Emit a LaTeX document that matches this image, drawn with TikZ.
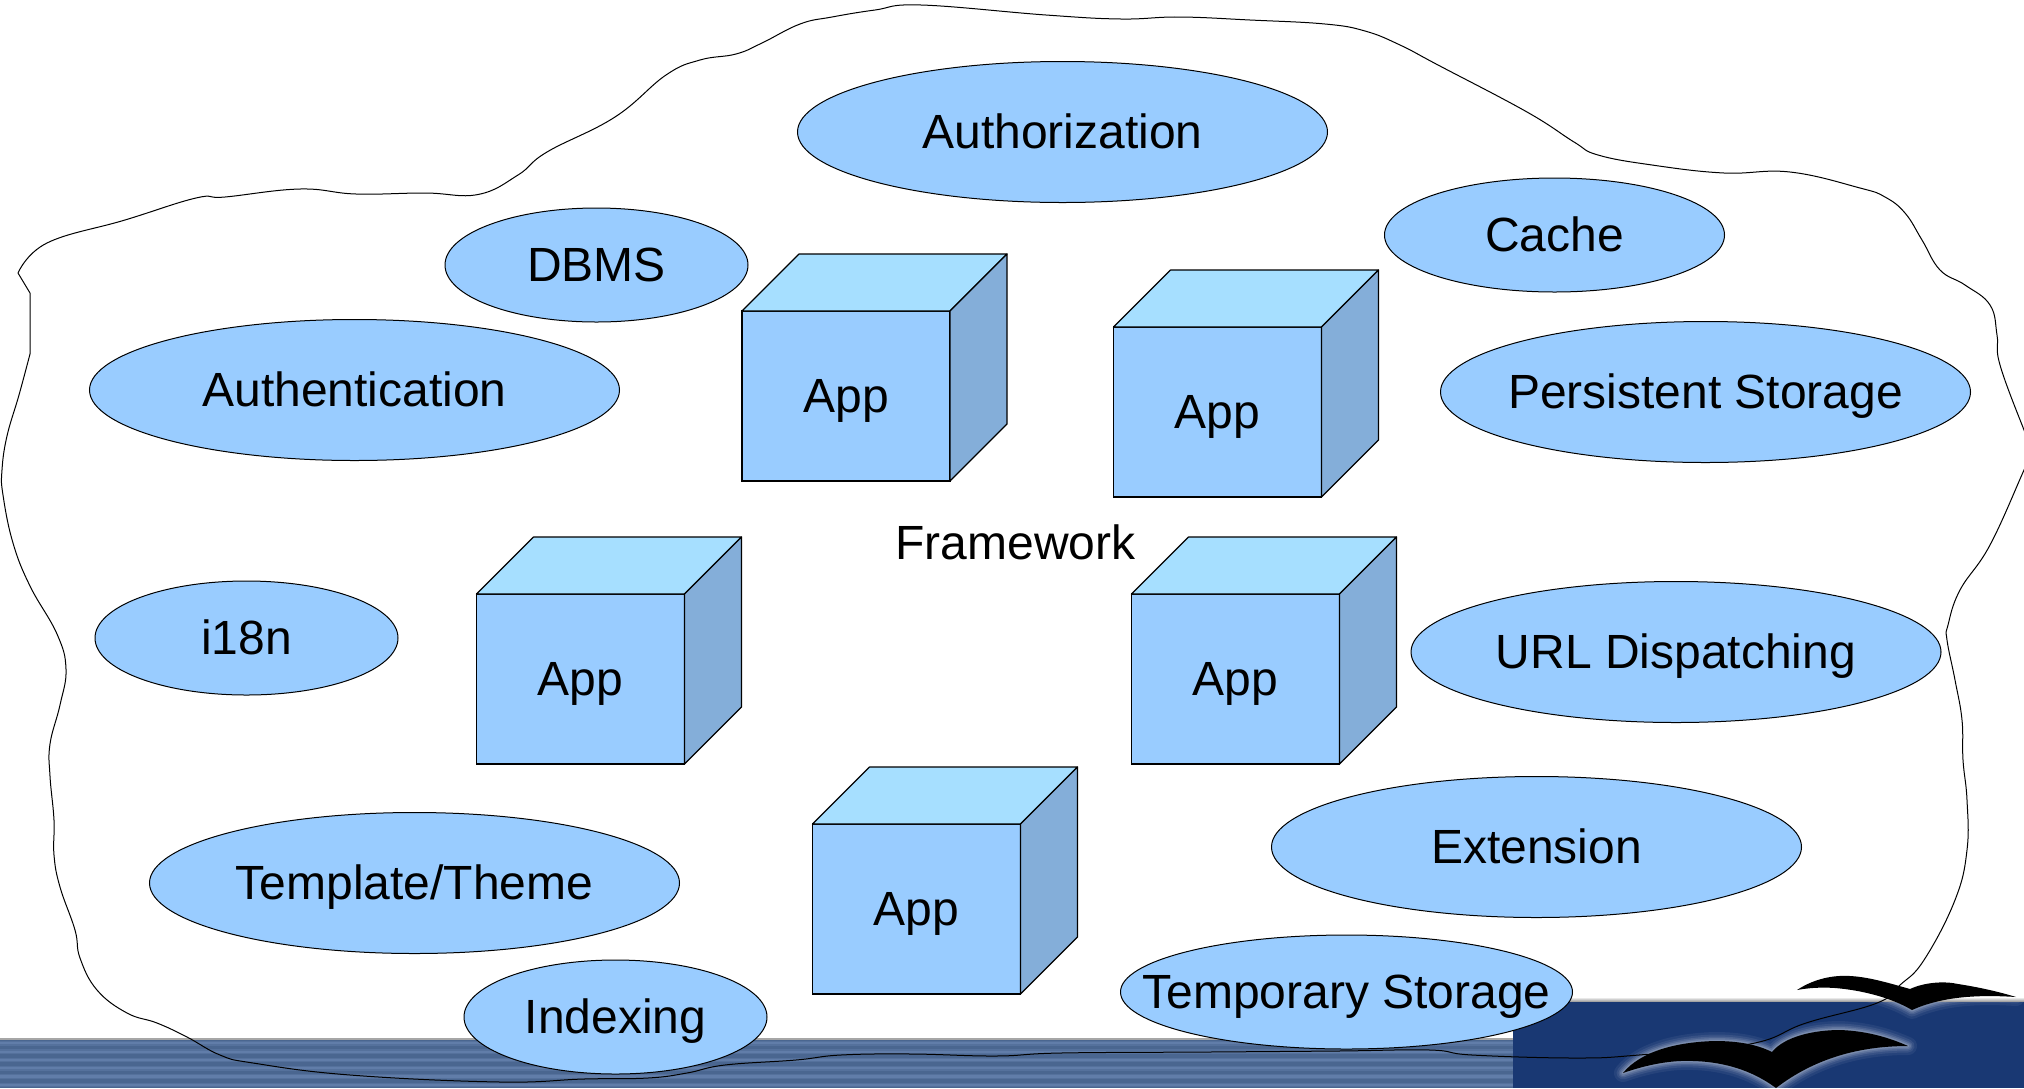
\documentclass[tikz,border=0pt]{standalone}
\usepackage{fontspec}
\setmainfont{Liberation Sans}
\usetikzlibrary{shapes.geometric}
\definecolor{bubble}{HTML}{99CCFF}
\definecolor{cubetop}{HTML}{A6DFFF}
\definecolor{cubeside}{HTML}{84AED9}
\definecolor{navy}{HTML}{193873}
\definecolor{stripedark}{HTML}{4A6690}
\definecolor{stripemid}{HTML}{55719C}
\definecolor{stripelight}{HTML}{617DA9}
\tikzset{
  label text/.style={font=\fontsize{48}{50}\selectfont, text=black, text height=32.5pt, text depth=0pt, inner sep=0pt, outer sep=0pt},
  bubblebig/.style={label text, ellipse, draw=black, line width=1pt, fill=bubble, minimum width=530pt, minimum height=141pt},
  bubblesmall/.style={label text, ellipse, draw=black, line width=1pt, fill=bubble, minimum width=303pt, minimum height=114pt},
  appface/.style={label text, rectangle, draw=black, line width=1.2pt, fill=bubble, minimum width=208pt, minimum height=170pt},
  apptop/.style={draw=black, line width=1.2pt, fill=cubetop, line join=round},
  appside/.style={draw=black, line width=1.2pt, fill=cubeside, line join=round},
  cloudline/.style={draw=black, line width=1pt, line join=round},
  birdshape/.style={fill=black},
  birdglow/.style={draw=white, line join=round},
}
\newcommand{\ctext}[1]{\hbox to 0pt{\hss #1\hss}}
\newcommand{\appcube}[3]{%
  \node[appface] (#1) at (#2,#3) {App};
  \draw[apptop] (#1.north west) -- ++(57,-57) -- ++(208,0) -- (#1.north east) -- cycle;
  \draw[appside] (#1.north east) -- ++(57,-57) -- ++(0,170) -- (#1.south east) -- cycle;
}
\def\birdone{(1797,990) .. controls (1815,978) and (1835,975) .. (1850,976) .. controls (1870,977) and (1892,984) .. (1910,989) .. controls (1925,982) and (1945,981) .. (1958,984) .. controls (1978,987) and (2000,992) .. (2016,997) .. controls (1985,995) and (1945,995) .. (1912,1010) .. controls (1890,997) and (1860,990) .. (1835,988) .. controls (1820,987) and (1808,988) .. (1797,990) -- cycle}
\def\birdtwo{(1623,1073) .. controls (1640,1052) and (1675,1042) .. (1715,1041) .. controls (1740,1041) and (1758,1045) .. (1772,1052) .. controls (1785,1036) and (1815,1030) .. (1840,1030) .. controls (1868,1031) and (1890,1038) .. (1908,1046) .. controls (1860,1046) and (1815,1058) .. (1776,1088) .. controls (1745,1065) and (1710,1060) .. (1680,1061) .. controls (1660,1062) and (1640,1067) .. (1623,1073) -- cycle}
\begin{document}
\begin{tikzpicture}[x=1pt,y=-1pt]
\useasboundingbox (0,0) rectangle (2024,1088);
\begin{scope}
\clip (0,0) rectangle (2024,1088);
% striped footer band
\fill[stripedark] (0,1039) rectangle (1513,1088);
\foreach \k in {0,...,6}{
  \pgfmathsetmacro{\ya}{1041+\k*8.3}
  \fill[stripemid] (0,\ya) rectangle (1513,\ya+4.6);
  \fill[stripelight] (0,\ya+1.2) rectangle (1513,\ya+3.4);
}
\fill[black!35] (0,1038) rectangle (1513,1039.5);
% logo block
\shade[top color=white, bottom color=black!45] (1513,997) rectangle (2024,1002);
\fill[navy] (1513,1002) rectangle (2024,1088);
% gulls with glow
\begin{scope}
\clip (0,1002) rectangle (2024,1088);
\foreach \w/\o in {18/.06,13/.08,9/.10,6/.12,3/.16}{
  \draw[birdglow, line width=\w pt, opacity=\o] \birdone;
  \draw[birdglow, line width=\w pt, opacity=\o] \birdtwo;
}
\end{scope}
\fill[birdshape] \birdone;
\fill[birdshape] \birdtwo;
% framework outline
\draw[cloudline] (30,354) -- (30,293) -- (18,273)
  plot[smooth, tension=.7] coordinates {(18,273)(47,243)(125,220)(196,198)(225,197)(300,189)(356,194)(425,193)(478,194.5)(518,175)(547,152)(615,117)(666,75)(700,60)(736,54)(762,43)(800,24)(832,17)(875,10)(921,5)(1046,15)(1121,19)(1179,17)(1250,20)(1325,24)(1365,31)(1400,45)(1438,65)(1527,112)(1574,142)(1598,155)(1652,165)(1724,173)(1790,172)(1860,188)(1885,197)(1905,213)(1922,240)(1940,270)(1965,285)(1990,305)(1997,335)(2000,365)(2024,430)(2033,450)(2024,470)(1990,545)(1960,590)(1948,625)(1947,640)(1955,680)(1962,720)(1963,760)(1967,800)(1967,850)(1955,900)(1924,960)(1900,985)(1877,1003)(1806,1023)(1750,1044)(1639,1055)(1575,1058)(1472,1055)(1430,1050)(1338,1051)(1209,1052)(1061,1053)(996,1056)(912,1054)(841,1055)(796,1060)(725,1065)(687,1073)(648,1078)(584,1079)(500,1082)(350,1075)(253,1063)(220,1055)(187,1037)(157,1023)(127,1013)(97,990)(80,958)(75,930)(60,887)(54,855)(54,820)(50,776)(50,744)(60,705)(66,669)(57,634)(30,586)(13,543)(3,495)(2,470)(7,436)(19,395)(30,354)};
\end{scope}
% services
\node[bubblebig] (authz) at (1062.5,132) {\ctext{Authorization}};
\node[bubblesmall] (dbms) at (596.5,265) {\ctext{DBMS}};
\node[bubblesmall, minimum width=340pt] (cache) at (1554.5,235) {\ctext{Cache}};
\node[bubblebig] (authn) at (354.5,390) {\ctext{Authentication}};
\node[bubblebig] (persist) at (1705.5,392) {\ctext{Persistent Storage}};
\node[bubblesmall] (i18n) at (246.5,638) {\ctext{i18n}};
\node[bubblebig] (url) at (1676,652) {\ctext{URL Dispatching}};
\node[bubblebig] (ext) at (1536.5,847) {\ctext{Extension}};
\node[bubblebig] (tmpl) at (414.5,883) {\ctext{Template/Theme}};
\node[bubblesmall] (index) at (615.5,1017) {\ctext{Indexing}};
\node[bubblesmall, minimum width=452pt] (temp) at (1346.5,992) {\ctext{Temporary Storage}};
% applications
\appcube{appa}{846}{396}
\appcube{appb}{1217.5}{412}
\appcube{appc}{580.5}{679}
\appcube{appd}{1235.5}{679}
\appcube{appe}{916.5}{909}
\node[label text] (fw) at (1015.5,543) {Framework};
\end{tikzpicture}
\end{document}
